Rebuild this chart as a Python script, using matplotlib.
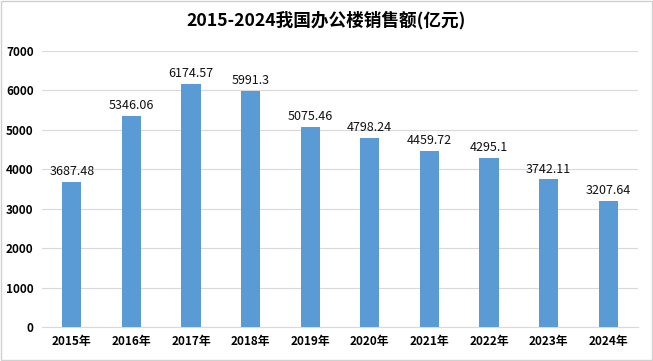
import matplotlib
matplotlib.use("Agg")
import matplotlib.pyplot as plt
from matplotlib.patches import Rectangle

plt.rcParams['font.family'] = ['Noto Sans CJK SC', 'DejaVu Sans']

years = ['2015年', '2016年', '2017年', '2018年', '2019年',
         '2020年', '2021年', '2022年', '2023年', '2024年']
sales = [3687.48, 5346.06, 6174.57, 5991.3, 5075.46,
         4798.24, 4459.72, 4295.1, 3742.11, 3207.64]
labels = ['3687.48', '5346.06', '6174.57', '5991.3', '5075.46',
          '4798.24', '4459.72', '4295.1', '3742.11', '3207.64']
yticks = [0, 1000, 2000, 3000, 4000, 5000, 6000, 7000]

fig = plt.figure(figsize=(6.53, 3.61), dpi=100)
fig.patches.append(Rectangle((0.002, 0.003), 0.996, 0.994, transform=fig.transFigure,
                             fill=False, edgecolor='#d0d0d0', linewidth=1))
ax = fig.add_axes([42 / 653, 1 - 327 / 361, 596 / 653, 276 / 361])

x = range(len(years))
ax.bar(x, sales, width=0.32, color='#5b9bd5', zorder=3)
for i, v in enumerate(sales):
    ax.text(i, v + 100, labels[i], ha='center', va='bottom', fontsize=9,
            color='#111111')

ax.set_xlim(-0.5, len(years) - 0.5)
ax.set_ylim(0, 7000)
ax.set_yticks(yticks)
ax.set_yticklabels([str(t) for t in yticks], fontsize=8.5, fontweight='bold')
ax.set_xticks(list(x))
ax.set_xticklabels(years, fontsize=8.5, fontweight='bold')
ax.grid(axis='y', color='#d9d9d9', linewidth=0.8, zorder=0)
for s in ['top', 'right', 'left']:
    ax.spines[s].set_visible(False)
ax.spines['bottom'].set_color('#d9d9d9')
ax.tick_params(length=0, pad=6)

fig.text(0.5, 1 - 20 / 361, '2015-2024我国办公楼销售额(亿元)', ha='center', va='center',
         fontsize=12.7, fontweight='bold')

fig.savefig('out.png', dpi=100)
